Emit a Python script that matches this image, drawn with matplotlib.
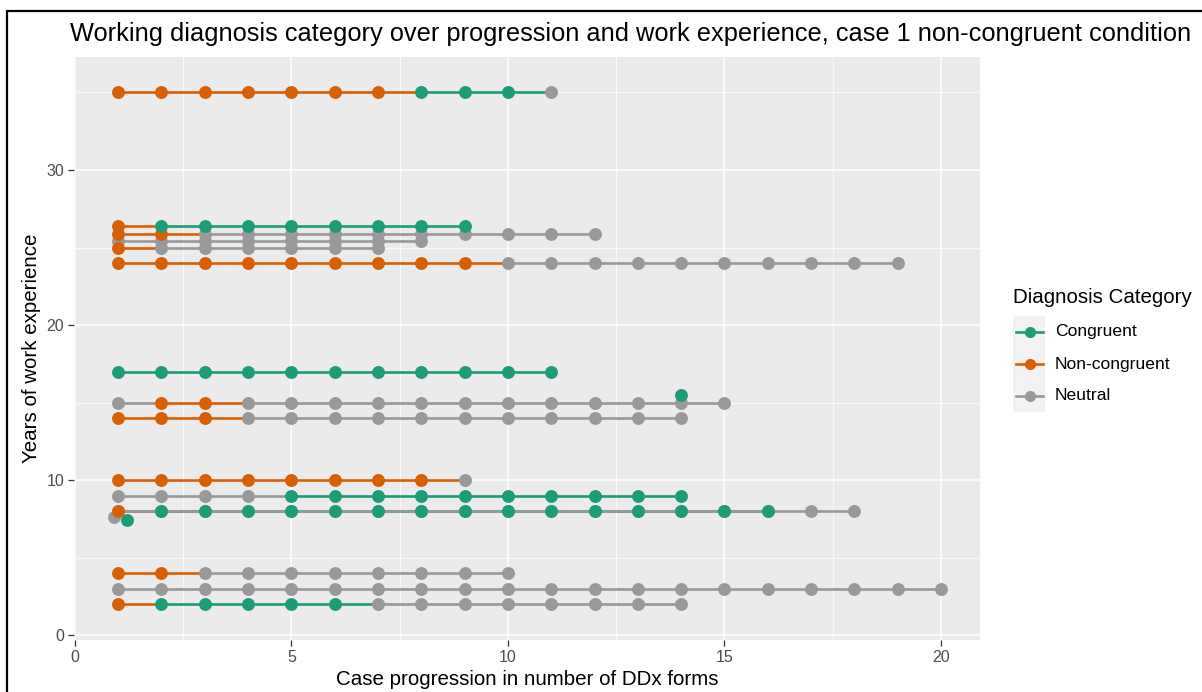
import matplotlib
matplotlib.use("Agg")
import matplotlib.pyplot as plt
from matplotlib.lines import Line2D
from matplotlib.patches import Rectangle

plt.rcParams["font.family"] = ["Liberation Sans", "DejaVu Sans"]

# One entry per participant: years of work experience and the diagnosis
# category of each successive DDx form (N = non-congruent, C = congruent, U = neutral)
years = [35, 26.4, 25.9, 25.4, 24.95, 24.0, 17, 15, 14, 10, 9, 8, 8, 4, 3, 2]
form_codes = [
    "NNNNNNNCCCU",
    "NCCCCCCCC",
    "NNUUUUUUUUUU",
    "UUUUUUUU",
    "NUUUUUU",
    "NNNNNNNNNUUUUUUUUUU",
    "CCCCCCCCCCC",
    "UNNUUUUUUUUUUUU",
    "NNNUUUUUUUUUUU",
    "NNNNNNNNU",
    "UUUUCCCCCCCCCC",
    "NCCCCCCCCCCCCCCC",
    "UUUUUUUUUUUUUUUUUU",
    "NNUUUUUUUU",
    "UUUUUUUUUUUUUUUUUUUU",
    "NCCCCCUUUUUUUU",
]

# Participants with a single recorded form
single_x = [14, 0.9, 1.2]
single_y = [15.5, 7.6, 7.4]
single_code = ["C", "U", "C"]

category_names = {"C": "Congruent", "N": "Non-congruent", "U": "Neutral"}
category_colors = {"C": "#1B9E77", "N": "#D95F02", "U": "#999999"}
legend_order = ["C", "N", "U"]

W, H = 1202, 692
fig = plt.figure(figsize=(W / 100, H / 100), dpi=100)
fig.patch.set_facecolor("white")

px_l, px_r, px_t, px_b = 74, 980, 57, 640
ax = fig.add_axes([px_l / W, 1 - px_b / H, (px_r - px_l) / W, (px_b - px_t) / H])
ax.set_facecolor("#EBEBEB")
for s in ax.spines.values():
    s.set_visible(False)

ax.set_xlim(-0.02, 20.9)
ax.set_ylim(-0.32, 37.29)

# grid: major and minor lines
for v in [0, 5, 10, 15, 20]:
    ax.axvline(v, color="white", lw=1.1, zorder=0.5)
for v in [2.5, 7.5, 12.5, 17.5]:
    ax.axvline(v, color="white", lw=0.55, zorder=0.5)
for v in [0, 10, 20, 30]:
    ax.axhline(v, color="white", lw=1.1, zorder=0.5)
for v in [5, 15, 25, 35]:
    ax.axhline(v, color="white", lw=0.55, zorder=0.5)

# path segments coloured by the category of the starting form
for yv, codes in zip(years, form_codes):
    for i in range(len(codes) - 1):
        ax.plot([i + 1, i + 2], [yv, yv], color=category_colors[codes[i]],
                lw=1.9, solid_capstyle="butt", zorder=2)

# points, one layer per category
for cat in ["U", "N", "C"]:
    xs, ys = [], []
    for yv, codes in zip(years, form_codes):
        for i, c in enumerate(codes):
            if c == cat:
                xs.append(i + 1)
                ys.append(yv)
    for sx, sy, sc in zip(single_x, single_y, single_code):
        if sc == cat:
            xs.append(sx)
            ys.append(sy)
    ax.plot(xs, ys, "o", color=category_colors[cat], ms=9.3, mec="none", zorder=3)

ax.set_xticks([0, 5, 10, 15, 20])
ax.set_yticks([0, 10, 20, 30])
ax.tick_params(axis="both", colors="#333333", length=4, width=0.9,
               labelsize=11.5, labelcolor="#4D4D4D", pad=3)

ax.set_xlabel("Case progression in number of DDx forms", fontsize=14.8, labelpad=4)
ax.set_ylabel("Years of work experience", fontsize=14.8, labelpad=4)

fig.text(px_l / W - 0.003, 1 - 34 / H,
         "Working diagnosis category over progression and work experience, case 1 non-congruent condition",
         fontsize=18.3, ha="left", va="center")

# legend
def fx(p):
    return p / W

def fy(p):
    return 1 - p / H

fig.text(fx(1013), fy(297), "Diagnosis Category", fontsize=14.8, ha="left", va="center")
key_top = 316
key_h = 32
for k, cat in enumerate(legend_order):
    y0 = key_top + k * key_h
    fig.add_artist(Rectangle((fx(1013), fy(y0 + key_h)), fx(32), key_h / H,
                             transform=fig.transFigure, facecolor="#F2F2F2",
                             edgecolor="none"))
    yc = fy(y0 + key_h / 2)
    fig.add_artist(Line2D([fx(1016), fx(1043)], [yc, yc], color=category_colors[cat],
                          lw=1.9, transform=fig.transFigure))
    fig.add_artist(Line2D([fx(1029.5)], [yc], marker="o", ms=8, mec="none",
                          color=category_colors[cat], transform=fig.transFigure))
    fig.text(fx(1055), yc, category_names[cat], fontsize=12.6, ha="left", va="center")

# outer frame (left and top edges fall inside the image)
fig.add_artist(Rectangle((fx(7), fy(H + 20)), fx(W + 40), (H + 20 - 11) / H,
                         transform=fig.transFigure, facecolor="none",
                         edgecolor="black", lw=1.6))

fig.savefig("out.png", dpi=100)
